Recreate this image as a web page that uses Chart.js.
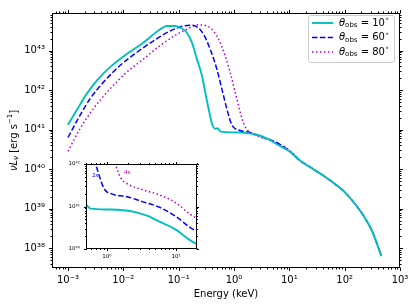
<!DOCTYPE html>
<html>
<head>
<meta charset="utf-8">
<script src="https://cdn.jsdelivr.net/npm/chart.js@4.4.0/dist/chart.umd.min.js"></script>
<style>
  html, body { margin: 0; padding: 0; background: #fff; }
  #wrap { position: relative; width: 415px; height: 307px; }
  #main { position: absolute; left: 0; top: 0; }
  #inset { position: absolute; left: 55px; top: 154px; }
</style>
</head>
<body>
<div id="wrap">
  <canvas id="main" width="415" height="307"></canvas>
  <canvas id="inset" width="150" height="112"></canvas>
</div>
<script>
// theta_obs = 10 deg
const energy10 = [0.001, 0.00145, 0.00219, 0.00331, 0.00575, 0.0115, 0.0229, 0.0457, 0.0603, 0.0851, 0.107, 0.141, 0.174, 0.214, 0.263, 0.302, 0.347, 0.398, 0.457, 0.5, 0.58, 1.12, 2.57, 3.98, 5.75, 10, 15.8, 25.1, 39.8, 63.1, 100, 158, 224, 316, 398, 457];
const lum10 = [1.32e41, 3.16e41, 8.13e41, 1.74e42, 3.8e42, 8.13e42, 1.58e43, 3.39e43, 4.17e43, 4.17e43, 3.8e43, 2.82e43, 1.58e43, 6.03e42, 2.34e42, 8.91e41, 3.39e41, 1.45e41, 1.05e41, 1.08e41, 8.9e40, 8.5e40, 7.4e40, 5.9e40, 4.4e40, 2.82e40, 1.62e40, 1.07e40, 7.08e39, 4.47e39, 2.63e39, 1.26e39, 6.31e38, 2.63e38, 1.12e38, 6.31e37];

// theta_obs = 60 deg
const energy60 = [0.001, 0.00166, 0.00251, 0.00437, 0.0087, 0.0174, 0.0347, 0.0692, 0.123, 0.174, 0.224, 0.282, 0.372, 0.49, 0.603, 0.741, 0.912, 1.2, 1.95, 3.16, 5.75, 10, 15.8, 25.1, 39.8, 63.1, 100, 158, 224, 316, 398, 457];
const lum60 = [6.31e40, 2.34e41, 6.03e41, 1.58e42, 4.17e42, 8.91e42, 1.74e43, 3.09e43, 4.17e43, 4.37e43, 3.8e43, 2.57e43, 1.07e43, 3.39e42, 1.07e42, 3.39e41, 1.32e41, 9.77e40, 8.51e40, 6.61e40, 4.79e40, 2.88e40, 1.62e40, 1.07e40, 7.08e39, 4.47e39, 2.63e39, 1.26e39, 6.31e38, 2.63e38, 1.12e38, 6.61e37];

// theta_obs = 80 deg
const energy80 = [0.001, 0.00166, 0.00288, 0.00575, 0.0115, 0.0229, 0.0457, 0.0933, 0.162, 0.214, 0.324, 0.49, 0.692, 0.851, 1.05, 1.29, 1.58, 2.09, 3.16, 5.75, 10, 15.8, 25.1, 39.8, 63.1, 100, 158, 224, 316, 398, 457];
const lum80 = [2.82e40, 1.07e41, 3.39e41, 1.07e42, 2.82e42, 6.03e42, 1.32e43, 2.57e43, 3.8e43, 4.47e43, 4.17e43, 2.34e43, 7.41e42, 2.82e42, 8.91e41, 2.82e41, 1.2e41, 8.13e40, 6.31e40, 4.68e40, 3.02e40, 1.66e40, 1.07e40, 7.08e39, 4.47e39, 2.63e39, 1.26e39, 6.31e38, 2.63e38, 1.12e38, 6.61e37];

const angles = ['10', '60', '80'];
const insetFactors = [1, 2, 4];
const insetNotes = [{ text: '2x', e: 0.68, l: 5.3e41, color: '#0000ff' }, { text: '4x', e: 1.98, l: 6.3e41, color: '#bf00bf' }];

const mainXTicks = [1e-3, 1e-2, 1e-1, 1e0, 1e1, 1e2, 1e3];
const mainYTicks = [1e38, 1e39, 1e40, 1e41, 1e42, 1e43];
const insetXTicks = [1e0, 1e1];
const insetYTicks = [1e40, 1e41, 1e42];

const colors = ['#00bfbf', '#0000ff', '#bf00bf'];
const dashes = [[], [5.5, 2.4], [1.5, 2.5]];
const FONT = "'DejaVu Sans', sans-serif";

const sup = { '-': '\u207b', '0': '\u2070', '1': '\u00b9', '2': '\u00b2', '3': '\u00b3', '4': '\u2074', '5': '\u2075', '6': '\u2076', '7': '\u2077', '8': '\u2078', '9': '\u2079' };
function powLabel(v) {
    const e = Math.round(Math.log10(v));
    return '10' + String(e).split('').map(c => sup[c]).join('');
}

function toPoints(xs, ys, k) {
    return xs.map((x, i) => ({ x: x, y: ys[i] * k }));
}

function makeDatasets(inset) {
    const sets = [[energy10, lum10], [energy60, lum60], [energy80, lum80]];
    return sets.map((s, i) => ({
        label: angles[i],
        data: toPoints(s[0], s[1], inset ? insetFactors[i] : 1),
        borderColor: colors[i],
        borderDash: dashes[i],
        borderWidth: i === 0 ? 1.9 : 1.5,
        pointRadius: 0,
        cubicInterpolationMode: 'monotone',
        fill: false
    }));
}

// рамка и засечки по всем четырём сторонам
function frameTicks(major, minor, fillWhite) {
    return {
        id: 'frameTicks',
        beforeDatasetsDraw(chart) {
            if (!fillWhite) return;
            const a = chart.chartArea;
            chart.ctx.save();
            chart.ctx.fillStyle = '#fff';
            chart.ctx.fillRect(a.left, a.top, a.right - a.left, a.bottom - a.top);
            chart.ctx.restore();
        },
        afterDraw(chart) {
            const ctx = chart.ctx, a = chart.chartArea;
            const sx = chart.scales.x, sy = chart.scales.y;
            ctx.save();
            ctx.strokeStyle = '#000';
            ctx.lineWidth = 1;
            const L = Math.round(a.left) + 0.5, R = Math.round(a.right) - 0.5;
            const T = Math.round(a.top) + 0.5, B = Math.round(a.bottom) - 0.5;
            ctx.strokeRect(L, T, R - L, B - T);
            ctx.beginPath();
            for (let e = Math.floor(Math.log10(sx.min)); e <= Math.ceil(Math.log10(sx.max)); e++) {
                for (let m = 1; m <= 9; m++) {
                    const v = m * Math.pow(10, e);
                    if (v < sx.min * 0.999 || v > sx.max * 1.001) continue;
                    const p = Math.round(sx.getPixelForValue(v)) + 0.5;
                    const len = m === 1 ? major : minor;
                    ctx.moveTo(p, B); ctx.lineTo(p, B + len);
                    ctx.moveTo(p, T); ctx.lineTo(p, T - len);
                }
            }
            for (let e = Math.floor(Math.log10(sy.min)); e <= Math.ceil(Math.log10(sy.max)); e++) {
                for (let m = 1; m <= 9; m++) {
                    const v = m * Math.pow(10, e);
                    if (v < sy.min * 0.999 || v > sy.max * 1.001) continue;
                    const p = Math.round(sy.getPixelForValue(v)) + 0.5;
                    const len = m === 1 ? major : minor;
                    ctx.moveTo(L, p); ctx.lineTo(L - len, p);
                    ctx.moveTo(R, p); ctx.lineTo(R + len, p);
                }
            }
            ctx.stroke();
            ctx.restore();
        }
    };
}

// текст из кусков разного размера (индексы, степени)
function richWidth(ctx, parts) {
    let w = 0;
    parts.forEach(p => { ctx.font = p.font; w += ctx.measureText(p.t).width; });
    return w;
}
function drawRichLeft(ctx, parts, x, y) {
    let cx = x;
    parts.forEach(p => {
        ctx.font = p.font;
        ctx.fillText(p.t, cx, y + (p.dy || 0));
        cx += ctx.measureText(p.t).width;
    });
}

const mainText = {
    id: 'mainText',
    afterDraw(chart) {
        const ctx = chart.ctx, a = chart.chartArea;
        ctx.save();
        ctx.fillStyle = '#000';
        ctx.textBaseline = 'middle';
        ctx.textAlign = 'left';
        // подпись оси X
        const xTitle = [{ t: 'Energy (keV)', font: '10px ' + FONT }];
        drawRichLeft(ctx, xTitle, (a.left + a.right) / 2 - richWidth(ctx, xTitle) / 2, 294);
        // подпись оси Y
        const yTitle = [
            { t: '\u03bdL', font: 'italic 10px ' + FONT },
            { t: '\u03bd', font: 'italic 7px ' + FONT, dy: 2 },
            { t: ' [erg s', font: '10px ' + FONT },
            { t: '\u22121', font: '7px ' + FONT, dy: -4 },
            { t: ']', font: '10px ' + FONT }
        ];
        ctx.save();
        ctx.translate(14, (a.top + a.bottom) / 2);
        ctx.rotate(-Math.PI / 2);
        drawRichLeft(ctx, yTitle, -richWidth(ctx, yTitle) / 2, 0);
        ctx.restore();

        // легенда
        const bx = 308.5, by = 15.5, bw = 86, bh = 47, r = 2.5;
        ctx.beginPath();
        ctx.moveTo(bx + r, by);
        ctx.arcTo(bx + bw, by, bx + bw, by + bh, r);
        ctx.arcTo(bx + bw, by + bh, bx, by + bh, r);
        ctx.arcTo(bx, by + bh, bx, by, r);
        ctx.arcTo(bx, by, bx + bw, by, r);
        ctx.closePath();
        ctx.fillStyle = 'rgba(255,255,255,0.8)';
        ctx.fill();
        ctx.strokeStyle = '#cccccc';
        ctx.lineWidth = 1;
        ctx.stroke();
        chart.data.datasets.forEach((ds, i) => {
            const yy = 23 + i * 14.5;
            ctx.save();
            ctx.strokeStyle = ds.borderColor;
            ctx.lineWidth = ds.borderWidth;
            ctx.setLineDash(ds.borderDash);
            ctx.beginPath();
            ctx.moveTo(312, yy);
            ctx.lineTo(333, yy);
            ctx.stroke();
            ctx.restore();
            ctx.fillStyle = '#000';
            drawRichLeft(ctx, [
                { t: '\u03b8', font: 'italic 10px ' + FONT },
                { t: 'obs', font: '7px ' + FONT, dy: 2.5 },
                { t: ' = ' + ds.label, font: '10px ' + FONT },
                { t: '\u2218', font: '7px ' + FONT, dy: -3.5 }
            ], 339, yy);
        });
        ctx.restore();
    }
};

const insetText = {
    id: 'insetText',
    afterDraw(chart) {
        const ctx = chart.ctx;
        ctx.save();
        ctx.font = '5.5px ' + FONT;
        ctx.textAlign = 'center';
        ctx.textBaseline = 'middle';
        insetNotes.forEach(n => {
            ctx.fillStyle = n.color;
            ctx.fillText(n.text, chart.scales.x.getPixelForValue(n.e), chart.scales.y.getPixelForValue(n.l));
        });
        ctx.restore();
    }
};

function logAxis(min, max, tickVals, size, fontSize, pad, isY) {
    const ax = {
        type: 'logarithmic',
        min: min,
        max: max,
        grid: { display: false, drawTicks: false },
        border: { display: false },
        afterBuildTicks: s => { s.ticks = tickVals.map(v => ({ value: v })); },
        ticks: {
            callback: v => powLabel(v),
            font: { family: FONT, size: fontSize },
            color: '#000',
            padding: pad,
            autoSkip: false,
            maxRotation: 0
        }
    };
    if (isY) ax.afterFit = s => { s.width = size; };
    else ax.afterFit = s => { s.height = size; };
    return ax;
}

new Chart(document.getElementById('main'), {
    type: 'line',
    data: { datasets: makeDatasets(false) },
    options: {
        responsive: false,
        animation: false,
        layout: { padding: { top: 10, right: 15, left: 0, bottom: 0 } },
        plugins: { legend: { display: false }, tooltip: { enabled: false } },
        scales: {
            x: logAxis(5.14e-4, 1000, mainXTicks, 39, 10, 6, false),
            y: logAxis(3.16e37, 8.9e43, mainYTicks, 52, 10, 7, true)
        }
    },
    plugins: [frameTicks(3.5, 2, false), mainText]
});

new Chart(document.getElementById('inset'), {
    type: 'line',
    data: { datasets: makeDatasets(true) },
    options: {
        responsive: false,
        animation: false,
        layout: { padding: { top: 10, right: 8, left: 0, bottom: 0 } },
        plugins: { legend: { display: false }, tooltip: { enabled: false } },
        scales: {
            x: logAxis(0.5, 20, insetXTicks, 17, 5.5, 4, false),
            y: logAxis(1e40, 1e42, insetYTicks, 31, 5.5, 6, true)
        }
    },
    plugins: [frameTicks(2.5, 1.5, true), insetText]
});
</script>
</body>
</html>
